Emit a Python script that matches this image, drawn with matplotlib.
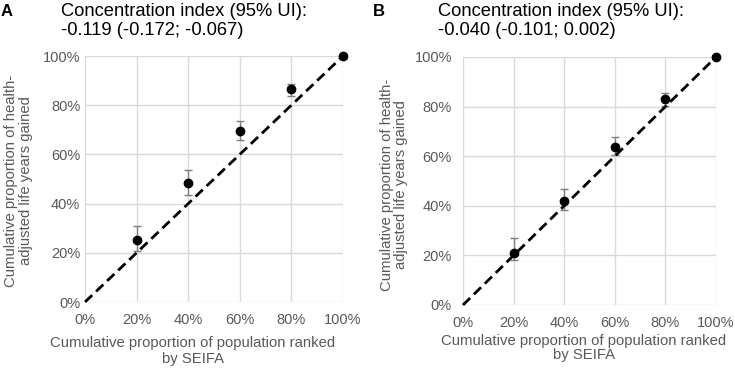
import matplotlib
matplotlib.use("Agg")
import matplotlib.pyplot as plt
from matplotlib.ticker import PercentFormatter

plt.rcParams['font.family'] = ['Liberation Sans', 'DejaVu Sans']

# cumulative population share (ranked by SEIFA)
pop = [0.2, 0.4, 0.6, 0.8, 1.0]

# panel A
a_val = [0.252, 0.485, 0.695, 0.865, 1.0]
a_lo = [0.207, 0.435, 0.659, 0.839, 1.0]
a_hi = [0.309, 0.537, 0.736, 0.887, 1.0]
a_title = "Concentration index (95% UI):\n-0.119 (-0.172; -0.067)"

# panel B
b_val = [0.211, 0.421, 0.638, 0.831, 1.0]
b_lo = [0.181, 0.383, 0.604, 0.802, 1.0]
b_hi = [0.269, 0.469, 0.679, 0.856, 1.0]
b_title = "Concentration index (95% UI):\n-0.040 (-0.101; 0.002)"

ticks = [0, 0.2, 0.4, 0.6, 0.8, 1.0]
xlab = "Cumulative proportion of population ranked\nby SEIFA"
ylab = "Cumulative proportion of health-\nadjusted life years gained"
grey = '#595959'
W, H = 735, 368


def panel(ax, val, lo, hi, ypad):
    err = [[v - l for v, l in zip(val, lo)], [h - v for v, h in zip(val, hi)]]
    ax.errorbar(pop, val, yerr=err, fmt='o', color='black', ms=6,
                ecolor='#7f7f7f', elinewidth=1, capsize=3, capthick=1,
                zorder=3, clip_on=False)
    ax.plot([0, 1], [0, 1], color='black', lw=2, dashes=(3.6, 1.9), zorder=4,
            clip_on=False)
    ax.set_xlim(0, 1)
    ax.set_ylim(0, 1)
    ax.set_xticks(ticks)
    ax.set_yticks(ticks)
    ax.xaxis.set_major_formatter(PercentFormatter(1.0, decimals=0))
    ax.yaxis.set_major_formatter(PercentFormatter(1.0, decimals=0))
    ax.grid(True, color='#d9d9d9', lw=1)
    ax.set_axisbelow(True)
    for s in ax.spines.values():
        s.set_visible(False)
    ax.tick_params(length=0, labelsize=10.5, labelcolor=grey)
    ax.tick_params(axis='x', pad=8)
    ax.tick_params(axis='y', pad=ypad)


fig = plt.figure(figsize=(W / 100, H / 100), dpi=100)
axA = fig.add_axes([85 / W, 1 - 302 / H, 258 / W, 246 / H])
axB = fig.add_axes([463 / W, 1 - 305 / H, 253 / W, 248 / H])

panel(axA, a_val, a_lo, a_hi, 3.5)
panel(axB, b_val, b_lo, b_hi, 8)

# axis titles
fig.text(193 / W, 1 - 351 / H, xlab, fontsize=10.7, color=grey, ha='center',
         va='center', linespacing=1.1)
fig.text(584 / W, 1 - 347.5 / H, xlab, fontsize=10.7, color=grey, ha='center',
         va='center', linespacing=1.0)
fig.text(18.5 / W, 1 - 181 / H, ylab, fontsize=10.7, color=grey, ha='center',
         va='center', rotation=90, linespacing=1.05)
fig.text(394 / W, 1 - 185 / H, ylab, fontsize=10.7, color=grey, ha='center',
         va='center', rotation=90, linespacing=1.05)

# panel headers
fig.text(61 / W, 1 - 21 / H, a_title, fontsize=13.2, va='center', ha='left',
         linespacing=1.15)
fig.text(438 / W, 1 - 21 / H, b_title, fontsize=13.2, va='center', ha='left',
         linespacing=1.15)
fig.text(1 / W, 1 - 11 / H, "A", fontsize=12, fontweight='bold', va='center',
         ha='left')
fig.text(373 / W, 1 - 11 / H, "B", fontsize=12, fontweight='bold', va='center',
         ha='left')

fig.savefig("out.png", dpi=100)
